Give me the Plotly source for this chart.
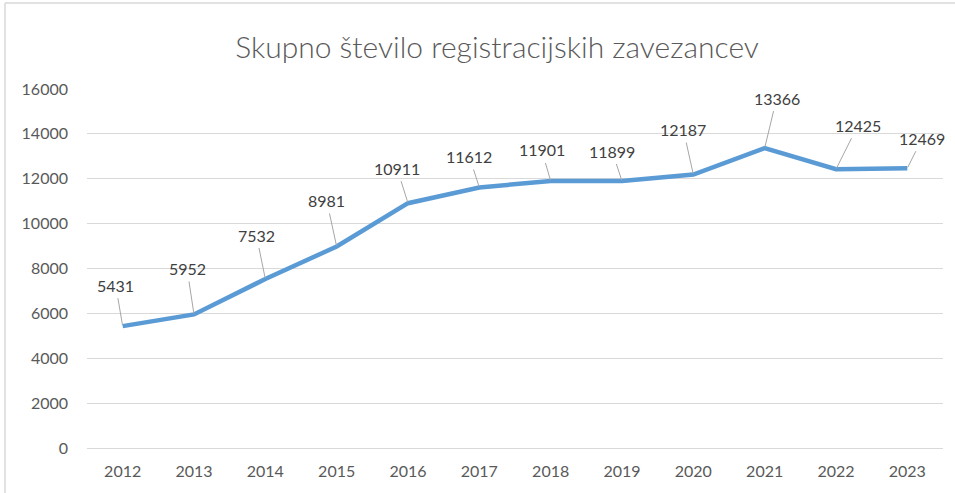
import plotly.graph_objects as go

years = [2012, 2013, 2014, 2015, 2016, 2017, 2018, 2019, 2020, 2021, 2022, 2023]
values = [5431, 5952, 7532, 8981, 10911, 11612, 11901, 11899, 12187, 13366, 12425, 12469]
y_ticks = [0, 2000, 4000, 6000, 8000, 10000, 12000, 14000, 16000]
title_text = "Skupno število registracijskih zavezancev"

# pixel offsets of the data-label callouts (label centre relative to point)
label_dx = [-7, -7, -9, -10, -11, -10, -9, -10, -10, 12, 22, 15]
label_dy = [-41, -46, -44, -46, -35, -31, -31, -30, -45, -50, -44, -30]

W, H = 955, 493
ML, MR, MT, MB = 87, 12, 89, 45
PW, PH = W - ML - MR, H - MT - MB

FONT = "Lato"
fig = go.Figure()
fig.add_trace(go.Scatter(
    x=years, y=values, mode="lines",
    line=dict(color="#5B9BD5", width=4.5, shape="linear"),
    hoverinfo="x+y", showlegend=False,
))

annotations = []
for yr, v, dx, dy in zip(years, values, label_dx, label_dy):
    annotations.append(dict(
        x=yr, y=v, xref="x", yref="y", text=str(v),
        showarrow=True, arrowhead=0, arrowwidth=1, arrowcolor="#A6A6A6",
        ax=dx, ay=dy, axref="pixel", ayref="pixel", borderpad=3, standoff=1,
        font=dict(family=FONT, size=16, color="#404040"),
    ))

def px_x(p):
    return (p - ML) / PW

def px_y(p):
    return (H - MB - p) / PH

shapes = [
    dict(type="line", xref="paper", yref="paper", x0=px_x(5), x1=px_x(W), y0=px_y(3), y1=px_y(3),
         line=dict(color="#D9D9D9", width=1.5)),
    dict(type="line", xref="paper", yref="paper", x0=px_x(5), x1=px_x(5), y0=px_y(3), y1=px_y(H),
         line=dict(color="#D9D9D9", width=1.5)),
]

fig.update_layout(
    width=W, height=H,
    margin=dict(l=ML, r=MR, t=MT, b=MB),
    paper_bgcolor="white", plot_bgcolor="white",
    title=dict(text=title_text, xref="container", yref="container",
               x=497 / W, y=1 - 47 / H, xanchor="center", yanchor="middle",
               font=dict(family=FONT, size=30, color="#595959", weight=300)),
    annotations=annotations,
    shapes=shapes,
    xaxis=dict(range=[2011.5, 2023.5], tickvals=years, ticktext=[str(y) for y in years],
               showgrid=False, showline=False,
               zeroline=False, ticks="", ticklabelstandoff=12,
               tickfont=dict(family=FONT, size=16, color="#595959")),
    yaxis=dict(range=[0, 16000], tickvals=y_ticks, ticktext=[str(t) for t in y_ticks],
               showgrid=True, gridcolor="#D9D9D9", gridwidth=1,
               zeroline=True, zerolinecolor="#D9D9D9", zerolinewidth=1,
               showline=False, ticks="", ticklabelstandoff=18,
               tickfont=dict(family=FONT, size=16, color="#595959")),
)

fig.write_html("out.html", config={"displayModeBar": False},
               post_script="document.body.style.margin='0';document.body.style.overflow='hidden';")
